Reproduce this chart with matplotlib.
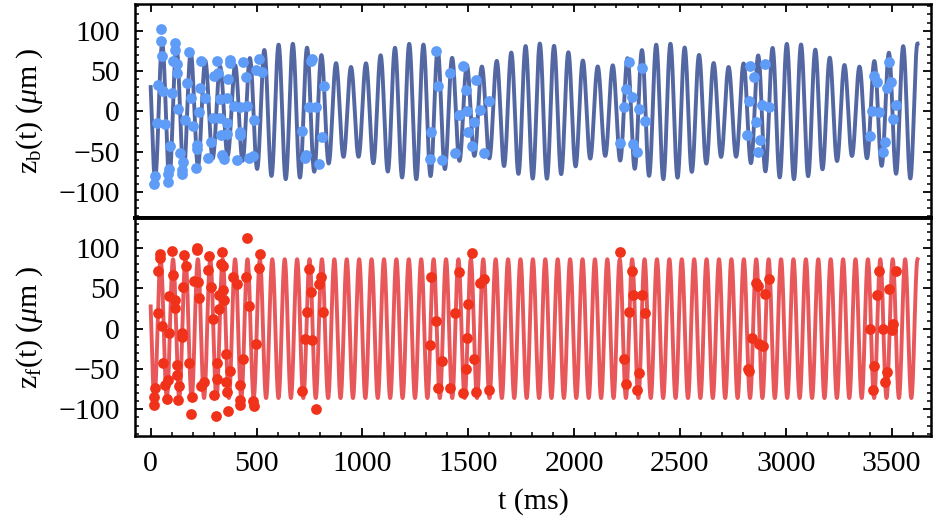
import numpy as np
import matplotlib
matplotlib.use("Agg")
import matplotlib.pyplot as plt
from matplotlib.ticker import MultipleLocator

plt.rcParams['font.family'] = ['Liberation Serif', 'DejaVu Serif']
plt.rcParams['mathtext.fontset'] = 'custom'
plt.rcParams['mathtext.rm'] = 'Liberation Serif'
plt.rcParams['mathtext.it'] = 'Liberation Serif:italic'

# ---------------- data: measured points ----------------
blue_t = [47, 47, 55, 36, 60, 28, 67, 91, 88, 20, 16, 83, 80, 115, 115, 107, 126, 123, 102, 130,
          138, 154, 149, 146, 182, 170, 190, 162, 198, 214, 217, 220, 240, 233, 256, 226, 272, 285,
          293, 311, 299, 319, 327, 359, 327, 359, 330, 359, 335, 346, 374, 377, 366, 393, 421, 421,
          421, 408, 437, 450, 456, 487, 465, 484, 513, 497, 524,
          757, 763, 747, 780, 716, 736, 728, 807, 796, 817,
          1346, 1357, 1326, 1319, 1374, 1416, 1456, 1436, 1475, 1488, 1494, 1499, 1518, 1527, 1538,
          1557, 1575, 1597,
          2257, 2320, 2246, 2273, 2238, 2305, 2337, 2215, 2278, 2297,
          2833, 2852, 2904, 2825, 2857, 2888, 2919, 2817, 2878, 2867,
          3418, 3429, 3486, 3497, 3476, 3406, 3442, 3520, 3505, 3398, 3468, 3457]
blue_z = [102, 87, 69, 33, 25, -14, -16, -43, -71, -80, -90, -87, -78, 85, 76, 62, 59, 47, 23, 3,
          -52, -63, -73, -78, 73, 35, 16, -11, -18, -70, -42, -46, 63, 29, 16, -1, -58, -38,
          -8, 62, 44, 47, 15, 17, -8, -14, -29, -28, -54, -59, 64, 60, 40, 7, 6, -25,
          -29, -60, 61, 43, 7, -11, -58, -55, 65, 51, 49,
          62, 65, 5, 6, -24, -54, -58, -32, -65, 31,
          75, 31, -26, -59, -60, 47, -5, -52, 56, 26, 0, -26, -43, -13, 39,
          2, -52, 13,
          61, 54, 28, 18, 6, 3, -12, -39, -40, -50,
          56, 43, 59, 13, -13, 8, 5, -29, -35, -50,
          44, 36, 61, 37, 29, 1, -1, 8, -10, -31, -38, -50]

red_t = [453, 44, 44, 36, 33, 55, 86, 60, 68, 80, 20, 16, 16, 76, 99, 104, 88, 115, 115, 146, 146,
         123, 123, 135, 127, 157, 167, 151, 181, 197, 189, 217, 220, 206, 225, 230, 237, 253, 275,
         269, 285, 293, 315, 315, 300, 308, 335, 332, 343, 343, 324, 347, 324, 354, 374, 355, 361,
         366, 390, 406, 450, 464, 434, 421, 421, 424, 481, 487, 497, 513, 516,
         747, 756, 739, 804, 794, 815, 728, 763, 717, 779,
         1326, 1347, 1318, 1374, 1358, 1416, 1436, 1456, 1475, 1497, 1494, 1488, 1518, 1526, 1538,
         1554, 1575, 1597,
         2215, 2273, 2278, 2320, 2259, 2337, 2238, 2246, 2306, 2297,
         2857, 2868, 2920, 2904, 2839, 2875, 2894, 2821, 2828,
         3439, 3521, 3431, 3489, 3398, 3458, 3502, 3508, 3418, 3478, 3468, 3411]
red_z = [112, 92, 88, 71, 19, 3, -5, -42, -70, -64, -74, -85, -94, -87, 96, 67, 40, 35, 26, -5, -10,
         -45, -57, -71, -88, 91, 77, 52, -42, -85, -106, 100, 98, 59, 58, 38, -71, -66, 90,
         73, 52, 12, -42, -62, -82, -108, 95, 80, 77, 48, 42, 35, 24, -31, -52, -66, -78,
         -102, 64, 55, 64, 28, -38, -70, -88, -94, -90, -96, -19, 75, 93,
         74, 45, 21, 64, 55, 21, -13, -14, -77, -99,
         64, 9, -20, -40, -74, -74, 19, 70, -80, 30, -11, -50, 94, -38, -79,
         57, 62, -76,
         95, 71, 42, 42, 21, 19, -38, -68, -55, -76,
         56, 53, 62, 43, -11, -19, -22, -50, -52,
         72, 72, 42, 49, 0, 0, -2, 6, -46, -54, -66, -76]

# ---------------- data: fitted-curve parameters ----------------
t_end = 3622            # ms, end of the drawn fit curves
blue_period = 64.86     # ms, carrier period
blue_beat = 595.0       # ms, beat period
blue_peak = 54.5        # ms, time of a carrier peak at envelope maximum
blue_amp_big = 69.5     # um
blue_amp_small = 14.5   # um
red_period = 58.61      # ms
red_peak = 47.0         # ms
red_amp = 86.0          # um

x_ticks = [0, 500, 1000, 1500, 2000, 2500, 3000, 3500]
y_ticks = [-100, -50, 0, 50, 100]

# ---------------- figure ----------------
fig = plt.figure(figsize=(9.33, 5.23), dpi=100)
ax1 = fig.add_axes([0.1447, 0.5832, 0.8532, 0.4092])
ax2 = fig.add_axes([0.1447, 0.1663, 0.8532, 0.4168])

tt = np.linspace(0, t_end, 20000)
fc = 1.0 / blue_period
fb = 1.0 / blue_beat
zb = (blue_amp_big * np.cos(2 * np.pi * (fc - fb / 2) * (tt - blue_peak))
      + blue_amp_small * np.cos(2 * np.pi * (fc + fb / 2) * (tt - blue_peak)))
zf = red_amp * np.cos(2 * np.pi * (tt - red_peak) / red_period)

line_blue = '#5367a3'
dot_blue = '#5f9cf8'
line_red = '#e8585a'
dot_red = '#f0321a'

ax1.plot(tt, zb, color=line_blue, lw=2.8, zorder=2)
ax1.scatter(blue_t, blue_z, s=60, color=dot_blue, zorder=3, linewidths=0)
ax2.plot(tt, zf, color=line_red, lw=2.8, zorder=2)
ax2.scatter(red_t, red_z, s=60, color=dot_red, zorder=3, linewidths=0)

ax1.set_ylim(-132, 133)
ax2.set_ylim(-133, 137)
for ax in (ax1, ax2):
    ax.set_xlim(-74, 3686)
    ax.set_xticks(x_ticks)
    ax.xaxis.set_minor_locator(MultipleLocator(100))
    ax.set_yticks(y_ticks)
    ax.yaxis.set_minor_locator(MultipleLocator(10))
    ax.tick_params(axis='both', which='major', direction='in', length=5.5, width=1.3,
                   labelsize=21.5, pad=11)
    ax.tick_params(axis='both', which='minor', direction='in', length=2.8, width=1.1)
    ax.tick_params(axis='y', which='both', left=True, right=True)
    for sp in ax.spines.values():
        sp.set_linewidth(1.8)
    ax.set_yticklabels(['\u2212100', '\u221250', '0', '50', '100'])

ax1.tick_params(axis='x', which='both', top=True, bottom=False, labelbottom=False)
ax2.tick_params(axis='x', which='both', top=False, bottom=True)
ax1.spines['bottom'].set_linewidth(2.8)
ax2.spines['top'].set_linewidth(2.8)

ax1.set_ylabel(r'$\mathrm{z_b(t)}$ ($\mu$m )', fontsize=21.5, labelpad=6)
ax2.set_ylabel(r'$\mathrm{z_f(t)}$ ($\mu$m )', fontsize=21.5, labelpad=6)
ax2.set_xlabel('t (ms)', fontsize=21.5, labelpad=8)
ax1.yaxis.set_label_coords(-0.113, 0.5)
ax2.yaxis.set_label_coords(-0.113, 0.5)

fig.savefig('out.png', dpi=100)
